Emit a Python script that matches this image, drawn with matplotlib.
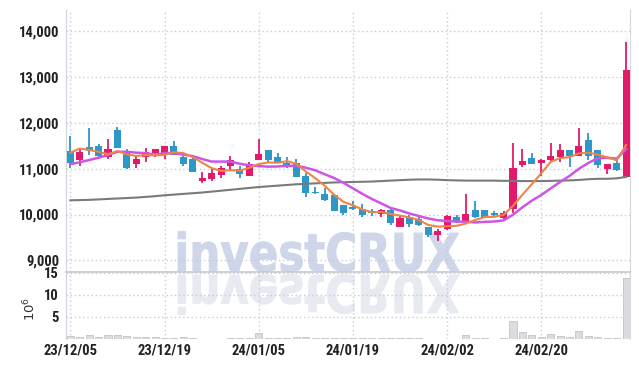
import numpy as np
import pandas as pd
import matplotlib
matplotlib.use('Agg')
import matplotlib.pyplot as plt
from matplotlib.textpath import TextPath
from matplotlib.patches import PathPatch
from matplotlib.font_manager import FontProperties
from matplotlib.transforms import Affine2D
from matplotlib import font_manager

# trading days 2023-12-05 .. 2024-03-05
dates = ['23/12/05', '23/12/06', '23/12/07', '23/12/08', '23/12/11', '23/12/12', '23/12/13',
         '23/12/14', '23/12/15', '23/12/18', '23/12/19', '23/12/20', '23/12/21', '23/12/22',
         '23/12/26', '23/12/27', '23/12/28', '24/01/02', '24/01/03', '24/01/04', '24/01/05',
         '24/01/08', '24/01/09', '24/01/10', '24/01/11', '24/01/12', '24/01/15', '24/01/16',
         '24/01/17', '24/01/18', '24/01/19', '24/01/22', '24/01/23', '24/01/24', '24/01/25',
         '24/01/26', '24/01/29', '24/01/30', '24/01/31', '24/02/01', '24/02/02', '24/02/05',
         '24/02/06', '24/02/07', '24/02/08', '24/02/13', '24/02/14', '24/02/15', '24/02/16',
         '24/02/19', '24/02/20', '24/02/21', '24/02/22', '24/02/23', '24/02/26', '24/02/27',
         '24/02/28', '24/02/29', '24/03/04', '24/03/05']
tick_dates = ['23/12/05', '23/12/19', '24/01/05', '24/01/19', '24/02/02', '24/02/20']

opens = [11390, 11190, 11470, 11500, 11260, 11850, 11370, 11110, 11250, 11340,
         11350, 11500, 11260, 11210, 10730, 10780, 10860, 11070, 10990, 10850,
         11190, 11410, 11250, 11120, 11120, 10840, 10500, 10450, 10430, 10210,
         10170, 10130, 10080, 10010, 10100, 9730, 9940, 9900, 9720, 9550,
         9690, 9940, 9850, 10100, 10100, 10030, 9930, 10110, 11090, 11230,
         11130, 11190, 11260, 11410, 11280, 11630, 11410, 11000, 11130, 10810]
highs = [11720, 11450, 11880, 11530, 11650, 11900, 11440, 11280, 11460, 11440,
         11500, 11610, 11270, 11260, 10930, 10990, 11060, 11280, 11060, 11150,
         11640, 11410, 11350, 11250, 11210, 10910, 10610, 10570, 10430, 10210,
         10300, 10240, 10130, 10130, 10130, 9990, 9990, 9950, 9720, 9680,
         9980, 9990, 10450, 10290, 10100, 10080, 10080, 11570, 11420, 11350,
         11210, 11570, 11540, 11410, 11880, 11770, 11410, 11100, 11190, 13770]
lows = [11010, 11060, 11300, 11250, 11220, 11450, 11000, 11010, 11150, 11260,
        11210, 11300, 11060, 10930, 10680, 10730, 10790, 10970, 10790, 10830,
        11180, 11150, 11150, 11010, 10820, 10390, 10450, 10300, 10080, 9990,
        10100, 9950, 9970, 9950, 9770, 9720, 9730, 9740, 9520, 9420,
        9660, 9820, 9820, 9920, 9950, 9970, 9860, 10030, 11040, 11100,
        10840, 11150, 11150, 11040, 11270, 11190, 11010, 10880, 10940, 10810]
closes = [11120, 11360, 11390, 11270, 11440, 11460, 11010, 11210, 11360, 11420,
          11500, 11310, 11110, 10930, 10800, 10910, 11010, 11190, 10890, 11100,
          11320, 11190, 11150, 11060, 10820, 10480, 10460, 10320, 10080, 10040,
          10110, 10000, 10030, 10100, 9820, 9930, 9790, 9770, 9550, 9640,
          9970, 9840, 10010, 9950, 9950, 10000, 10040, 11010, 11160, 11100,
          11200, 11280, 11410, 11280, 11500, 11280, 11080, 11100, 10970, 13150]
# volume in millions of shares
volumes = [0.7, 0.5, 1.0, 0.5, 0.8, 1.0, 0.6, 0.5, 0.5, 0.4,
           0.3, 0.2, 0.5, 0.2, 0.1, 0.1, 0.1, 0.2, 0.2, 0.3,
           1.4, 0.3, 0.2, 0.2, 0.5, 0.5, 0.2, 0.2, 0.2, 0.2,
           0.2, 0.2, 0.2, 0.2, 0.2, 0.2, 0.2, 0.2, 0.1, 0.1,
           0.1, 0.1, 0.8, 0.3, 0.3, 0.1, 0.3, 4.1, 1.5, 0.8,
           0.5, 1.2, 0.7, 0.5, 1.8, 0.7, 0.4, 0.2, 0.2, 13.8]

# moving average values before enough visible closes exist
ma5_head = [11350, 11440, 11410, 11370]
ma10_head = [11100, 11140, 11190, 11240, 11300, 11370, 11370, 11350, 11340]
ma_long = [10310, 10315, 10320, 10330, 10340, 10350, 10360, 10370, 10385, 10400,
           10420, 10435, 10450, 10465, 10480, 10500, 10520, 10540, 10560, 10580,
           10600, 10615, 10630, 10645, 10660, 10670, 10680, 10690, 10700, 10705,
           10710, 10715, 10720, 10730, 10740, 10750, 10760, 10765, 10765, 10760,
           10750, 10745, 10740, 10740, 10740, 10740, 10735, 10735, 10730, 10730,
           10730, 10735, 10740, 10745, 10755, 10770, 10780, 10780, 10790, 10820]

UP = '#e31a6a'
DOWN = '#2f96c8'
GRID = '#c6c9dc'

# pick a condensed face if one is installed
names = {f.name for f in font_manager.fontManager.ttflist}
cond = [n for n in ('DejaVu Sans Condensed', 'Liberation Sans Narrow', 'Roboto Condensed',
                    'Open Sans Condensed', 'Noto Sans Condensed') if n in names]
LABEL_FONT = cond[:1] + ['DejaVu Sans']

df = pd.DataFrame({'open': opens, 'high': highs, 'low': lows, 'close': closes, 'vol': volumes})
x = np.arange(len(df))
ma5 = df['close'].rolling(5).mean().values
ma5[:len(ma5_head)] = ma5_head
ma10 = df['close'].rolling(10).mean().values
ma10[:len(ma10_head)] = ma10_head

W, H = 639, 366
fig = plt.figure(figsize=(W / 100, H / 100), dpi=100)
fig.patch.set_facecolor('white')
ax = fig.add_axes([66 / W, 94 / H, 564 / W, 262 / H])
axv = fig.add_axes([66 / W, 27 / H, 564 / W, 67 / H], sharex=ax)
for a in (ax, axv):
    a.set_facecolor('none')
    for s in a.spines.values():
        s.set_visible(False)
    a.spines['left'].set_visible(True)
    a.spines['left'].set_color('#d0d2dc')
    a.spines['right'].set_visible(True)
    a.spines['right'].set_color('#d6d6dc')
    a.tick_params(length=0, pad=5, colors='#222222')
    a.grid(True, color=GRID, linestyle=(0, (1, 2)), linewidth=1)
    a.set_axisbelow(True)
ax.spines['bottom'].set_visible(True)
ax.spines['bottom'].set_color('#c8c8cc')
ax.spines['bottom'].set_linewidth(1.2)

# candles
colors = np.where(df['close'] >= df['open'], UP, DOWN)
ax.vlines(x, df['low'], df['high'], colors=colors, linewidth=1.3, zorder=2)
body = np.maximum((df['close'] - df['open']).abs(), 15)
ax.bar(x, body, bottom=np.minimum(df['open'], df['close']), width=0.75,
       color=colors, zorder=3)

ax.plot(x, ma_long, color='#7a7a7a', linewidth=1.5, zorder=4)
ax.plot(x, ma10, color='#cc55e8', linewidth=1.8, zorder=5)
ax.plot(x, ma5, color='#ee8448', linewidth=1.5, zorder=6)

ax.set_xlim(-0.46, 59.42)
ax.set_ylim(8745, 14465)
ax.set_yticks([9000, 10000, 11000, 12000, 13000, 14000])
ax.yaxis.set_major_formatter(matplotlib.ticker.StrMethodFormatter('{x:,.0f}'))
tick_pos = [dates.index(d) for d in tick_dates]
ax.set_xticks(tick_pos)
ax.tick_params(axis='x', labelbottom=False)

axv.bar(x, df['vol'], width=0.75, color='#dcdce0', edgecolor='#c2c2c8', linewidth=0.6, zorder=3)
axv.set_ylim(0, 15.2)
axv.set_yticks([5, 10, 15])
axv.set_xticks(tick_pos)
axv.set_xticklabels(tick_dates)
axv.tick_params(axis='x', pad=3)
axv.text(-0.064, 0.45, '10$^6$', transform=axv.transAxes, rotation=90,
         ha='center', va='center', fontsize=9.5, color='#333333')

for lab in ax.get_yticklabels() + axv.get_yticklabels() + axv.get_xticklabels():
    lab.set_family(LABEL_FONT)
    lab.set_fontweight('bold')
    lab.set_fontsize(10.5)

# watermark with reflection
tp = TextPath((0, 0), 'investCRUX', size=100,
              prop=FontProperties(family='DejaVu Sans', weight='bold'))
ext = tp.get_extents()
sx = 281 / ext.width
sy = 38 / 72.9
main = PathPatch(tp, transform=Affine2D().translate(-ext.x0, 0).scale(sx, sy).translate(178, 95),
                 facecolor='#d0d6ea', edgecolor='#d0d6ea', linewidth=0.7, zorder=-1)
refl = PathPatch(tp, transform=Affine2D().translate(-ext.x0, 0).scale(sx, -sy).translate(178, 91),
                 facecolor='#e8eaf1', edgecolor='#e8eaf1', linewidth=0.7, zorder=-1)
fig.add_artist(main)
fig.add_artist(refl)

fig.savefig('out.png', dpi=100, facecolor='white')
